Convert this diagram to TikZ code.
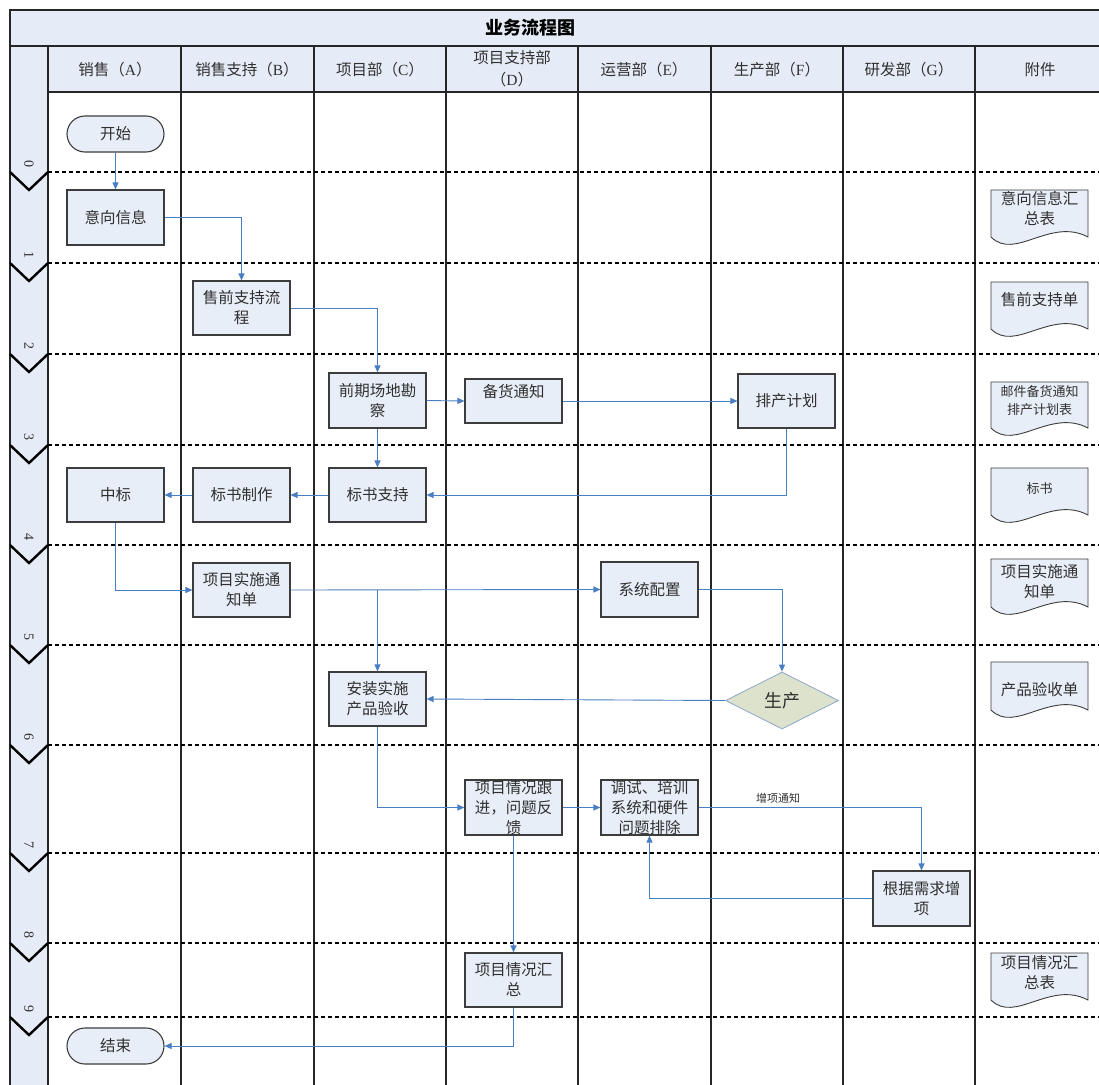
\documentclass[tikz,border=0pt]{standalone}
\usepackage{fontspec}
\setmainfont{Noto Sans CJK SC}
\newfontfamily\numfont{Liberation Serif}
\usetikzlibrary{arrows.meta,shapes.geometric}
\definecolor{hdrfill}{HTML}{E6ECF7}
\definecolor{boxfill}{HTML}{E8EEF8}
\definecolor{boxline}{HTML}{3C3C3C}
\definecolor{arrowc}{HTML}{4A7EC2}
\definecolor{textc}{HTML}{303030}
\definecolor{diafill}{HTML}{DCE2CB}
\definecolor{dialine}{HTML}{8FA6C9}
\newcommand\fsn{\fontsize{15.5}{20}\selectfont}
\newcommand\fss{\fontsize{13}{18}\selectfont}
\newcommand\docshape[3]{\draw[docline] (#1,#2) -- (#1,#3) .. controls +(24,24) and +(-38,-20) .. (#1+97,#3) -- (#1+97,#2) -- cycle;}
\begin{document}
\begin{tikzpicture}[x=1pt,y=-1pt,
  proc/.style={draw=boxline, fill=boxfill, line width=1.1pt, minimum width=97pt, minimum height=54pt, inner xsep=1pt, inner ysep=0pt, align=center, font=\fsn, text=textc},
  term/.style={proc, rounded corners=18pt, minimum height=36pt},
  decbox/.style={diamond, draw=dialine, fill=diafill, line width=0.8pt, minimum width=113pt, minimum height=57pt, inner sep=0pt, font=\fontsize{18}{20}\selectfont, text=textc},
  conn/.style={draw=arrowc, line width=0.9pt, -{Triangle[length=7pt,width=6pt]}},
  docline/.style={draw=boxline, fill=boxfill, line width=0.9pt},
  doctext/.style={align=center, font=\fsn, text=textc, inner sep=0pt},
  docsmall/.style={doctext, font=\fss},
  hdr/.style={font=\fsn, text=textc, align=center},
  gridline/.style={line width=1.3pt, draw=black!85},
  dashsep/.style={line width=1.8pt, dash pattern=on 4pt off 3pt, black},
  chev/.style={line width=2.4pt, black},
  stepnum/.style={font=\numfont\fontsize{14}{14}\selectfont, rotate=-90, text=textc}
]
\useasboundingbox (0,0) rectangle (1099,1084);
\clip (0,0) rectangle (1099,1084);
% backgrounds
\fill[hdrfill] (10,10) rectangle (1110,46);
\fill[hdrfill] (48,46) rectangle (1110,92);
\fill[hdrfill] (10,46) rectangle (48,1090);
% grid
\draw[gridline] (1110,10) -- (10,10) -- (10,1090);
\draw[gridline] (10,46) -- (1110,46);
\draw[gridline] (48,92) -- (1110,92);
\foreach \x in {48,181,314,446,578,711,843,975} \draw[gridline] (\x,46) -- (\x,1090);
% phase separators
\foreach \y/\n in {172/0,263/1,354/2,445/3,545/4,645/5,745/6,853/7,943/8,1017/9} {
  \draw[dashsep] (48,\y) -- (1110,\y);
  \draw[chev] (10,\y) -- (29,\y+18) -- (48,\y);
  \node[stepnum] (n\n) at (29,\y-8) {\n};
}
% title and headers
\node[font=\fontsize{18}{20}\selectfont\bfseries, text=black] (title) at (530,28) {业务流程图};
\node[hdr] (hA) at (115,70) {销售（{\numfont A}）};
\node[hdr] (hB) at (247,70) {销售支持（{\numfont B}）};
\node[hdr] (hC) at (380,70) {项目部（{\numfont C}）};
\node[hdr, font=\fontsize{15.5}{22}\selectfont] (hD) at (512,69) {项目支持部\\（{\numfont D}）};
\node[hdr] (hE) at (644,70) {运营部（{\numfont E}）};
\node[hdr] (hF) at (777,70) {生产部（{\numfont F}）};
\node[hdr] (hG) at (909,70) {研发部（{\numfont G}）};
\node[hdr] (hH) at (1040,70) {附件};
% process nodes
\node[term] (start) at (115.5,134) {开始};
\node[proc, minimum height=55pt] (yx) at (115.5,217.5) {意向信息};
\node[proc] (sq) at (241.5,308) {售前支持流\\程};
\node[proc, minimum height=55pt] (qq) at (377.5,400.5) {前期场地勘\\察};
\node[proc, minimum height=44pt, text height=13pt, text depth=19.6pt] (bh) at (513.5,401) {备货通知};
\node[proc] (pc) at (786.5,401) {排产计划};
\node[proc] (zb) at (115.5,495) {中标};
\node[proc] (bz) at (241.5,495) {标书制作};
\node[proc] (bs) at (377.5,495) {标书支持};
\node[proc] (xm) at (241.5,590) {项目实施通\\知单};
\node[proc, minimum height=55pt] (xt) at (649.5,589.5) {系统配置};
\node[decbox] (sc) at (782,700.5) {生产};
\node[proc] (az) at (377.5,699) {安装实施\\产品验收};
\node[proc, minimum height=55pt] (gj) at (513.5,807.5) {项目情况跟\\进，问题反\\馈};
\node[proc, minimum height=55pt] (ts) at (649.5,807.5) {调试、培训\\系统和硬件\\问题排除};
\node[proc, minimum height=55pt] (zx) at (921.5,898.5) {根据需求增\\项};
\node[proc] (hz) at (513.5,980) {项目情况汇\\总};
\node[term] (stop) at (115.5,1046) {结束};
% documents
\docshape{991}{190}{237}
\node[doctext] (d1) at (1039.5,209) {意向信息汇\\总表};
\docshape{991}{282}{329}
\node[doctext] (d2) at (1039.5,300) {售前支持单};
\docshape{991}{382}{428}
\node[docsmall] (d3) at (1039.5,401) {邮件备货通知\\排产计划表};
\docshape{991}{468}{515}
\node[docsmall] (d4) at (1039.5,489) {标书};
\docshape{991}{559}{607}
\node[doctext] (d5) at (1039.5,582) {项目实施通\\知单};
\docshape{991}{662}{710}
\node[doctext] (d6) at (1039.5,690) {产品验收单};
\docshape{991}{953}{1000}
\node[doctext] (d7) at (1039.5,973) {项目情况汇\\总表};
% connectors
\draw[conn] (start.south) -- (yx.north);
\draw[conn] (yx.east) -| (sq.north);
\draw[conn] (sq.east) -| (qq.north);
\draw[conn] (qq.east) -- (bh.west);
\draw[conn] (qq.south) -- (bs.north);
\draw[conn] (bh.east) -- (pc.west);
\draw[conn] (pc.south) |- (bs.east);
\draw[conn] (bs.west) -- (bz.east);
\draw[conn] (bz.west) -- (zb.east);
\draw[conn] (zb.south) |- (xm.west);
\draw[conn] (xm.east) -- (xt.west);
\draw[conn] (az.north |- xm.east) -- (az.north);
\draw[conn] (xt.east) -| (sc.north);
\draw[conn] (sc.west) -- (az.east);
\draw[conn] (az.south) |- (gj.west);
\draw[conn] (gj.east) -- (ts.west);
\draw[conn] (ts.east) -| (zx.north);
\node[font=\fontsize{11}{12}\selectfont, text=textc] (zxlabel) at (778,798) {增项通知};
\draw[conn] (zx.west) -| (ts.south);
\draw[conn] (gj.south) -- (hz.north);
\draw[conn] (hz.south) |- (stop.east);
\end{tikzpicture}
\end{document}
